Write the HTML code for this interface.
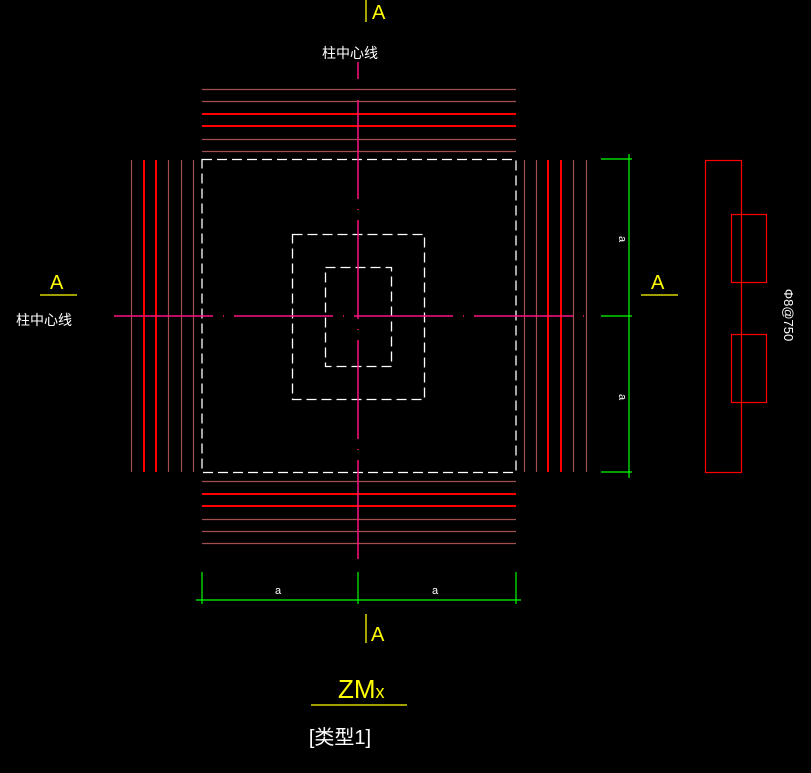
<!DOCTYPE html>
<html><head><meta charset="utf-8"><style>
html,body{margin:0;padding:0;background:#000;width:811px;height:773px;overflow:hidden}
svg text{font-family:"Liberation Sans","Noto Sans CJK SC",sans-serif}
</style></head><body>
<svg width="811" height="773" viewBox="0 0 811 773" xmlns="http://www.w3.org/2000/svg">
<g stroke="#ff0000" stroke-width="1.2">
<line x1="202" y1="89.5" x2="516" y2="89.5" stroke="#a05050"/>
<line x1="202" y1="101.5" x2="516" y2="101.5" stroke="#a05050"/>
<line x1="202" y1="114" x2="516" y2="114" stroke-width="2"/>
<line x1="202" y1="126" x2="516" y2="126" stroke-width="2"/>
<line x1="202" y1="139.5" x2="516" y2="139.5" stroke="#a05050"/>
<line x1="202" y1="151.5" x2="516" y2="151.5" stroke="#a05050"/>
<line x1="202" y1="481.5" x2="516" y2="481.5" stroke="#a05050"/>
<line x1="202" y1="494" x2="516" y2="494" stroke-width="2"/>
<line x1="202" y1="506" x2="516" y2="506" stroke-width="2"/>
<line x1="202" y1="519.5" x2="516" y2="519.5" stroke="#a05050"/>
<line x1="202" y1="531.5" x2="516" y2="531.5" stroke="#a05050"/>
<line x1="202" y1="543.5" x2="516" y2="543.5" stroke="#a05050"/>
<line x1="131.5" y1="160" x2="131.5" y2="472" stroke="#a05050"/>
<line x1="144" y1="160" x2="144" y2="472" stroke-width="2"/>
<line x1="156" y1="160" x2="156" y2="472" stroke-width="2"/>
<line x1="168.5" y1="160" x2="168.5" y2="472" stroke="#a05050"/>
<line x1="181.5" y1="160" x2="181.5" y2="472" stroke="#a05050"/>
<line x1="193.5" y1="160" x2="193.5" y2="472" stroke="#a05050"/>
<line x1="524.5" y1="160" x2="524.5" y2="472" stroke="#a05050"/>
<line x1="536.5" y1="160" x2="536.5" y2="472" stroke="#a05050"/>
<line x1="548" y1="160" x2="548" y2="472" stroke-width="2"/>
<line x1="561" y1="160" x2="561" y2="472" stroke-width="2"/>
<line x1="573.5" y1="160" x2="573.5" y2="472" stroke="#a05050"/>
<line x1="586.5" y1="160" x2="586.5" y2="472" stroke="#a05050"/>
</g>
<g fill="none" stroke="#fff" stroke-width="1.3" stroke-dasharray="10,5">
<rect x="202" y="159.5" width="314" height="313"/>
<rect x="292.5" y="234.5" width="132" height="165"/>
<rect x="325.5" y="267.5" width="66" height="99"/>
</g>
<g stroke="#ff1080" stroke-width="1.5">
<line x1="358" y1="62" x2="358" y2="560" stroke-dasharray="99,10,1,10" stroke-dashoffset="82"/>
<line x1="114" y1="316" x2="586" y2="316" stroke-dasharray="99,10,1,10"/>
</g>
<g stroke="#00ff00" stroke-width="1.2">
<line x1="629" y1="154" x2="629" y2="478"/>
<line x1="601" y1="159" x2="632" y2="159"/>
<line x1="601" y1="316" x2="632" y2="316"/>
<line x1="601" y1="472" x2="632" y2="472"/>
<line x1="196" y1="600" x2="521" y2="600"/>
<line x1="202" y1="572" x2="202" y2="604"/>
<line x1="358" y1="572" x2="358" y2="604"/>
<line x1="516" y1="572" x2="516" y2="604"/>
</g>
<g fill="#fff" font-size="11">
<text x="619" y="239" transform="rotate(90 619 239)" text-anchor="middle">a</text>
<text x="619" y="397" transform="rotate(90 619 397)" text-anchor="middle">a</text>
<text x="278" y="594" text-anchor="middle">a</text>
<text x="435" y="594" text-anchor="middle">a</text>
<text x="784" y="315" transform="rotate(90 784 315)" text-anchor="middle" font-size="13">Φ8@750</text>
<text x="350" y="58" text-anchor="middle" font-size="14">柱中心线</text>
<text x="44" y="325" text-anchor="middle" font-size="14">柱中心线</text>
<text x="340" y="744" text-anchor="middle" font-size="20" fill="#fff">[类型1]</text>
</g>
<g fill="none" stroke="#ff0000" stroke-width="1.2">
<rect x="705.5" y="160.5" width="36" height="312"/>
<rect x="731.5" y="214.5" width="35" height="68"/>
<rect x="731.5" y="334.5" width="35" height="68"/>
</g>
<g stroke="#ffff00" stroke-width="1.3">
<line x1="366" y1="0" x2="366" y2="22"/>
<line x1="366" y1="614" x2="366" y2="643"/>
<line x1="40" y1="295" x2="77" y2="295"/>
<line x1="641" y1="295" x2="678" y2="295"/>
<line x1="311" y1="705" x2="407" y2="705"/>
</g>
<g fill="#ffff00" font-size="20">
<text x="372" y="19">A</text>
<text x="371" y="641">A</text>
<text x="50" y="289">A</text>
<text x="651" y="289">A</text>
<text x="338" y="698" font-size="26">ZM<tspan font-size="18">x</tspan></text>
</g>
</svg>
</body></html>
